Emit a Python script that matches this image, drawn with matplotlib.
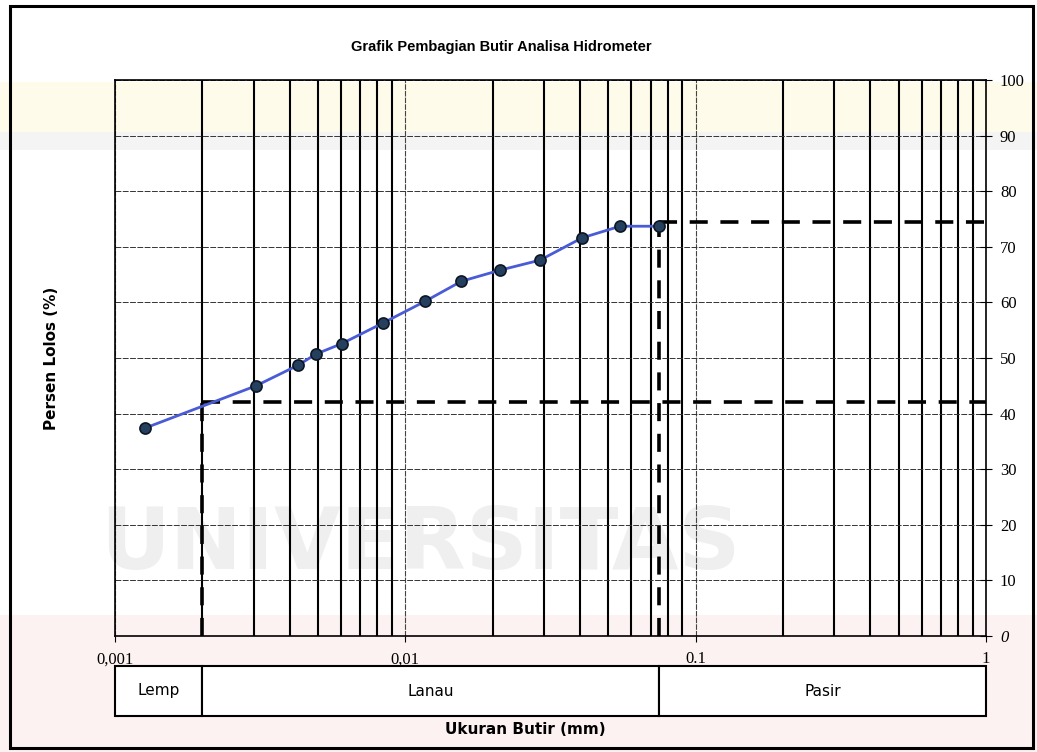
import matplotlib
matplotlib.use("Agg")
import matplotlib.pyplot as plt
from matplotlib.ticker import LogLocator, FixedLocator, NullFormatter
from matplotlib.patches import Rectangle

# ---- data ----
ukuran_butir = [0.00127, 0.00306, 0.00427, 0.00492, 0.00605, 0.00838, 0.0117,
                0.0156, 0.0212, 0.0291, 0.0406, 0.0549, 0.075]
persen_lolos = [37.4, 45.0, 48.7, 50.7, 52.6, 56.3, 60.2, 63.8, 65.8, 67.6,
                71.6, 73.7, 73.7]
d10_line = [0.002, 42.0]      # clay limit / percent
d_pasir_line = [0.075, 74.5]  # sand limit / percent
zona_nama = ["Lemp", "Lanau", "Pasir"]
zona_batas = [0.001, 0.002, 0.075, 1.0]
x_ticks = [0.001, 0.01, 0.1, 1]
x_tick_labels = ["0,001", "0,01", "0.1", "1"]
y_ticks = [0, 10, 20, 30, 40, 50, 60, 70, 80, 90, 100]
judul = "Grafik Pembagian Butir Analisa Hidrometer"
label_x = "Ukuran Butir (mm)"
label_y = "Persen Lolos (%)"

W, H = 1037, 752
fig = plt.figure(figsize=(W / 100, H / 100), dpi=100)
fig.patch.set_facecolor("white")

def fx(px):
    return px / W

def fy(py):
    return 1 - py / H

# faint scanned watermark bands (behind everything)
bg = fig.add_axes([0, 0, 1, 1], zorder=-10)
bg.set_xlim(0, W)
bg.set_ylim(H, 0)
bg.axis("off")
bg.add_patch(Rectangle((0, 82), W, 50, facecolor="#fffbea", edgecolor="none"))
bg.add_patch(Rectangle((0, 132), W, 18, facecolor="#f4f4f4", edgecolor="none"))
bg.add_patch(Rectangle((0, 615), W, H - 615, facecolor="#fdf2f2", edgecolor="none"))
bg.text(420, 545, "UNIVERSITAS", fontsize=62, fontweight="bold",
        color="#efefef", ha="center", va="center")
bg.add_patch(Rectangle((10, 6), 1023, 742, facecolor="none",
                       edgecolor="black", lw=2.2))

ax_l, ax_r, ax_t, ax_b = 115, 986, 80, 636
ax = fig.add_axes([fx(ax_l), fy(ax_b), fx(ax_r - ax_l), (ax_b - ax_t) / H])
ax.set_facecolor("none")
ax.set_xscale("log")
ax.set_xlim(0.001, 1)
ax.set_ylim(0, 100)

ax.xaxis.set_major_locator(FixedLocator(x_ticks))
ax.set_xticklabels(x_tick_labels, fontfamily="Liberation Serif", fontsize=12)
ax.xaxis.set_minor_locator(LogLocator(base=10, subs=[2, 3, 4, 5, 6, 7, 8, 9]))
ax.xaxis.set_minor_formatter(NullFormatter())
ax.tick_params(axis="x", which="major", length=4, width=0.8, pad=7, direction="out")
ax.tick_params(axis="x", which="minor", length=0)

ax.yaxis.tick_right()
ax.set_yticks(y_ticks)
ax.set_yticklabels([str(v) for v in y_ticks], fontfamily="Liberation Serif", fontsize=12)
ax.tick_params(axis="y", which="major", length=8, width=0.8, direction="inout", pad=6)
ax.get_yticklabels()[0].set_fontstyle("italic")

ax.grid(which="minor", axis="x", color="black", lw=1.5, zorder=1)
ax.grid(which="major", axis="x", color="#444444", lw=0.8, linestyle=(0, (5, 1)), zorder=1)
ax.grid(which="major", axis="y", color="#333333", lw=0.7, linestyle=(0, (6, 1.5)), zorder=1)
for s in ax.spines.values():
    s.set_color("black")
    s.set_linewidth(1.2)

# reference dashed lines
dash = (0, (5, 3.5))
ax.plot([d10_line[0], 1], [d10_line[1], d10_line[1]], color="black", lw=2.6,
        linestyle=dash, zorder=3)
ax.plot([d10_line[0], d10_line[0]], [0, d10_line[1]], color="black", lw=2.6,
        linestyle=dash, zorder=3)
ax.plot([d_pasir_line[0], 1], [d_pasir_line[1], d_pasir_line[1]], color="black", lw=2.6,
        linestyle=dash, zorder=3)
ax.plot([d_pasir_line[0], d_pasir_line[0]], [0, d_pasir_line[1]], color="black", lw=2.6,
        linestyle=dash, zorder=3)

# data
ax.plot(ukuran_butir, persen_lolos, color="#4a5bd6", lw=2.0, marker="o",
        markersize=8, markerfacecolor="#24405e", markeredgecolor="#0d1624",
        markeredgewidth=1.2, zorder=4)

ax.yaxis.set_label_position("left")
ax.set_ylabel(label_y, fontsize=11, fontweight="bold", labelpad=40)

# bottom classification boxes
bx = fig.add_axes([fx(ax_l), fy(716), fx(ax_r - ax_l), (716 - 666) / H])
bx.set_xscale("log")
bx.set_xlim(0.001, 1)
bx.set_ylim(0, 1)
bx.axis("off")
for i, nama in enumerate(zona_nama):
    x0, x1 = zona_batas[i], zona_batas[i + 1]
    bx.add_patch(Rectangle((x0, 0), x1 - x0, 1, facecolor="white",
                           edgecolor="black", lw=1.5, clip_on=False))
    xm = (x0 * x1) ** 0.5
    bx.text(xm, 0.5, nama, ha="center", va="center", fontsize=11)

fig.text(fx(525), fy(729), label_x, ha="center", va="center", fontsize=11,
         fontweight="bold")
fig.text(fx(501), fy(47), judul, ha="center", va="center", fontsize=10.5,
         fontweight="bold", family=["Liberation Sans Narrow", "Liberation Sans"])

fig.savefig("out.png", dpi=100)
